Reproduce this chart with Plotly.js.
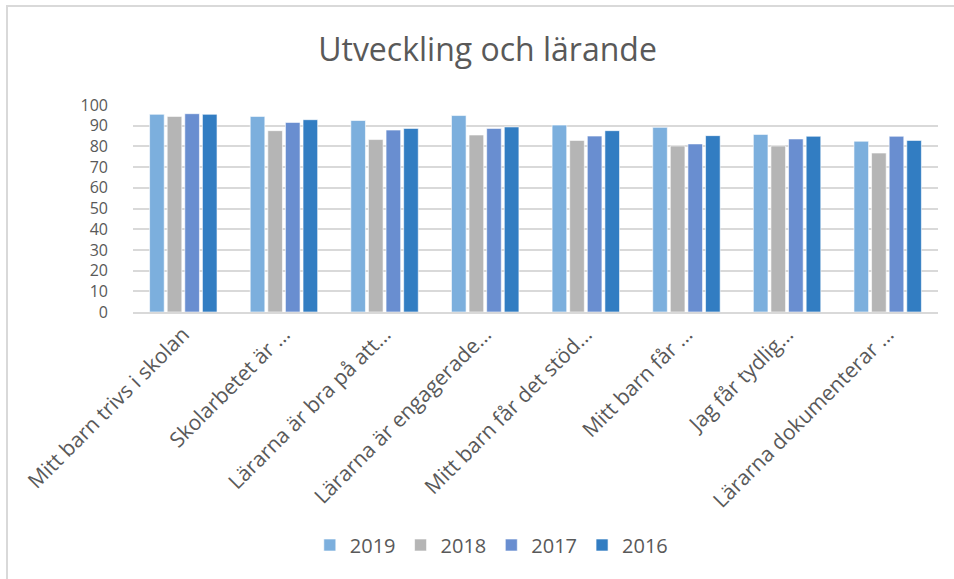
<!DOCTYPE html>
<html>
<head>
<meta charset="utf-8">
<script src="https://cdn.plot.ly/plotly-3.0.1.min.js"></script>
<style>
html,body{margin:0;padding:0;background:#fff;overflow:hidden;}
#chart{position:absolute;left:0;top:0;width:954px;height:579px;}
#frame{position:absolute;left:6px;top:5px;width:1000px;height:1000px;border-left:2px solid #d9d9d9;border-top:2px solid #d9d9d9;pointer-events:none;}
</style>
</head>
<body>
<div id="chart"></div>
<div id="frame"></div>
<script>
const categories = [
  "Mitt barn trivs i skolan",
  "Skolarbetet är …",
  "Lärarna är bra på att…",
  "Lärarna är engagerade…",
  "Mitt barn får det stöd…",
  "Mitt barn får …",
  "Jag får tydlig…",
  "Lärarna dokumenterar …"
];
const years = ["2019", "2018", "2017", "2016"];
const values2019 = [95.5, 94.5, 92.5, 94.9, 90.3, 89.2, 85.8, 82.5];
const values2018 = [94.5, 87.6, 83.3, 85.5, 82.9, 80.2, 80.2, 76.8];
const values2017 = [95.8, 91.6, 87.9, 88.7, 85.0, 81.2, 83.6, 84.9];
const values2016 = [95.5, 92.9, 88.7, 89.4, 87.6, 85.2, 84.9, 82.9];
const colors = ["#7cafdd", "#b5b5b5", "#698ed0", "#327dc2"];

const series = [values2019, values2018, values2017, values2016];
const data = series.map((vals, i) => ({
  type: "bar",
  name: years[i],
  x: categories,
  y: vals,
  marker: {color: colors[i], line: {color: "rgba(255,255,255,0.6)", width: 1}},
  hoverinfo: "x+y+name"
}));

const font = "'Open Sans', 'Noto Sans', sans-serif";
const layout = {
  width: 954,
  height: 579,
  paper_bgcolor: "#ffffff",
  plot_bgcolor: "#ffffff",
  font: {family: font, color: "#595959", size: 18},
  margin: {l: 133, r: 16, t: 105, b: 267, pad: 0},
  title: {
    text: "Utveckling och lärande",
    font: {family: font, size: 32, color: "#595959"},
    xref: "container", x: 0.511, xanchor: "center",
    yref: "container", y: 1 - 50/579, yanchor: "middle"
  },
  bargap: 0.30,
  bargroupgap: 0.17,
  xaxis: {
    type: "category",
    tickangle: -45,
    tickfont: {family: font, size: 21, color: "#595959"},
    showline: true, linecolor: "#d9d9d9", linewidth: 1.5,
    ticks: "", showgrid: false, automargin: false
  },
  yaxis: {
    range: [0, 100],
    dtick: 10,
    tickfont: {family: font, size: 16, color: "#595959"},
    showgrid: true, gridcolor: "#d9d9d9", gridwidth: 1.5,
    zeroline: false, showline: false, ticks: "",
    ticklabelstandoff: 24,
    automargin: false
  },
  legend: {
    orientation: "h",
    xref: "container", x: 0.515, xanchor: "center",
    yref: "container", y: 1 - 545/579, yanchor: "middle",
    font: {family: font, size: 20, color: "#595959"},
    traceorder: "normal"
  },
  showlegend: true
};

Plotly.newPlot("chart", data, layout, {displayModeBar: false, staticPlot: false});
</script>
</body>
</html>
